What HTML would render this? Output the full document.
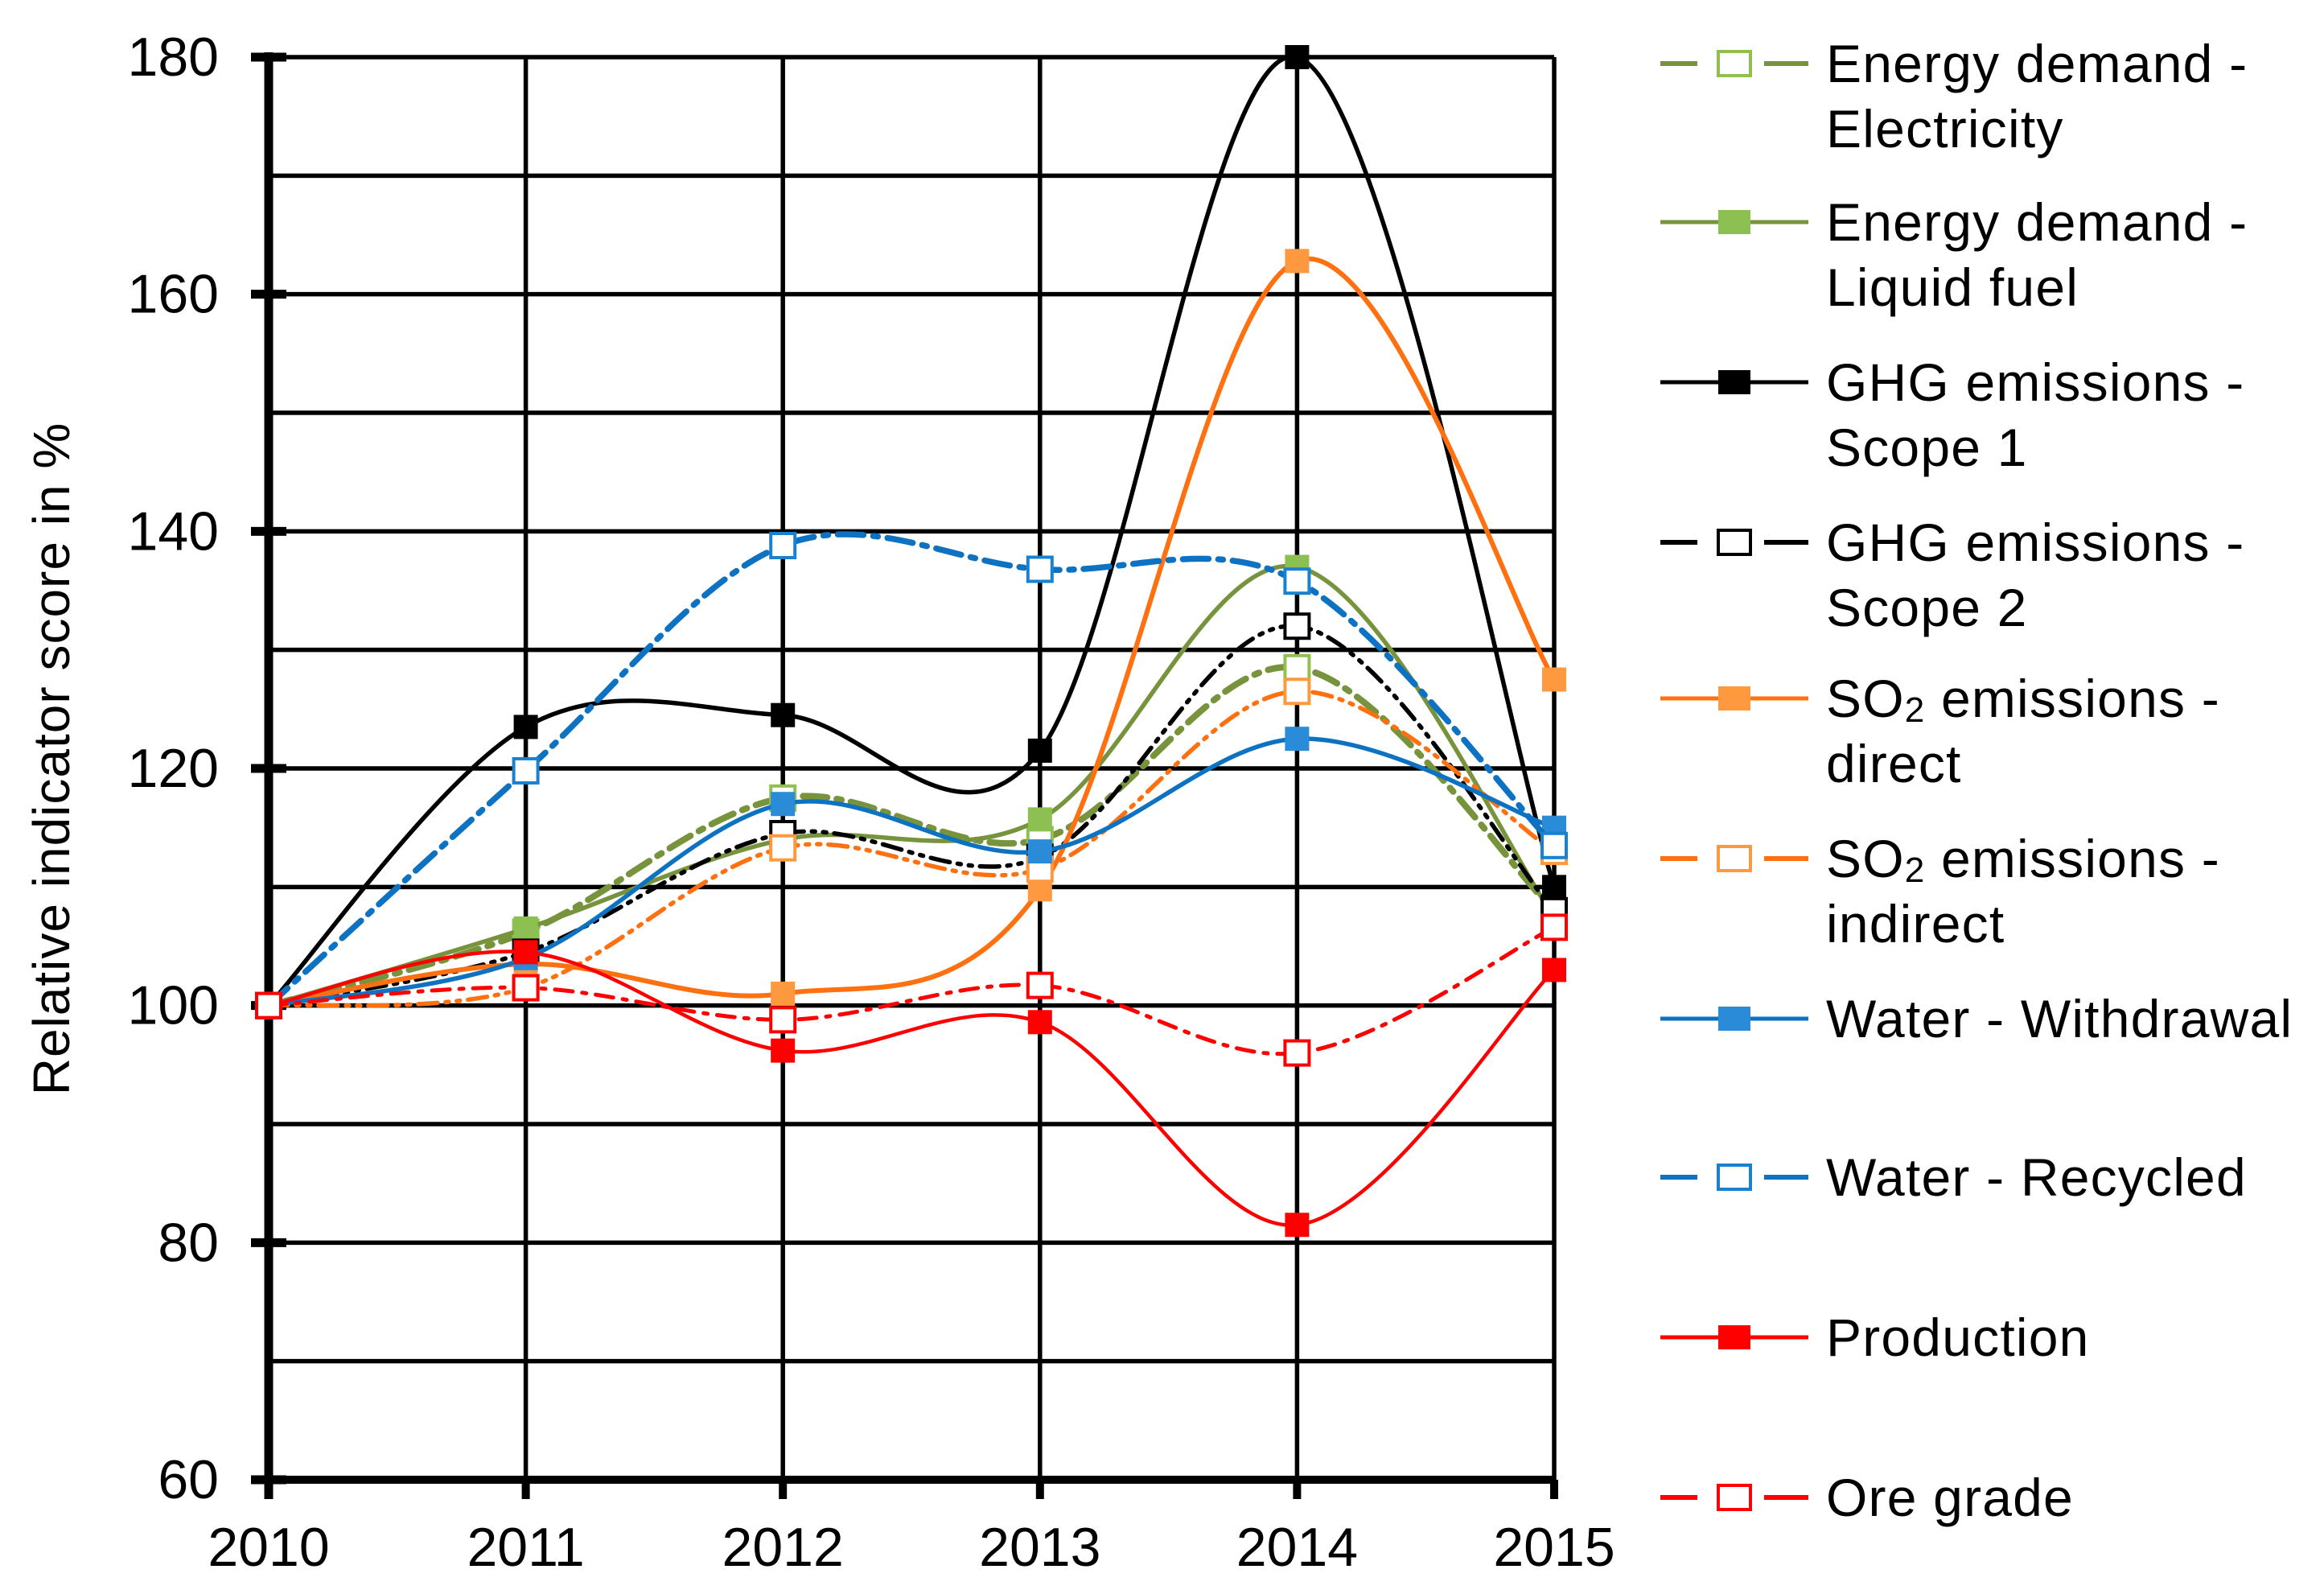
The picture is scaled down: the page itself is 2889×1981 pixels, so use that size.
<!DOCTYPE html>
<html><head><meta charset="utf-8"><style>
html,body{margin:0;padding:0;background:#fff;}
svg{display:block;font-family:"Liberation Sans",Arial,sans-serif;}
</style></head><body>
<svg id="chart" width="2889" height="1981" viewBox="0 0 2889 1981" xmlns="http://www.w3.org/2000/svg">
<g id="grid"></g>
<g id="axes"></g>
<g id="series"></g>
<g id="legend"></g>
<text x="64" y="943" font-size="64" letter-spacing="1" text-anchor="middle" dominant-baseline="central" transform="rotate(-90 64 943)">Relative indicator score in %</text>
</svg>
<script>
const years = [2010, 2011, 2012, 2013, 2014, 2015];
const yTicks = [60, 80, 100, 120, 140, 160, 180];
const elecVals = [100, 106.2, 117.5, 114, 128.5, 108];
const liquidVals = [100, 106.5, 114, 115.7, 137, 107.5];
const scope1Vals = [100, 123.5, 124.5, 121.5, 180, 110];
const scope2Vals = [100, 104.5, 114.5, 112.5, 132, 108];
const so2DirVals = [100, 103.5, 101, 109.8, 162.8, 127.5];
const so2IndVals = [100, 101.5, 113.3, 111.5, 126.5, 113];
const withdrawVals = [100, 104, 117, 113, 122.5, 115];
const recycledVals = [100, 119.8, 138.8, 136.8, 135.8, 113.5];
const productionVals = [100, 104.5, 96.2, 98.6, 81.5, 103];
const oreVals = [100, 101.5, 98.8, 101.7, 96, 106.6];

const NS = "http://www.w3.org/2000/svg";
const X0 = 334, X1 = 1932, Y0 = 1839, Y1 = 71;
const xScale = i => X0 + (X1 - X0) * i / (years.length - 1);
const yScale = v => Y0 - (v - 60) / 120 * (Y0 - Y1);
function mk(tag, attrs, parent) {
  const e = document.createElementNS(NS, tag);
  for (const k in attrs) e.setAttribute(k, attrs[k]);
  parent.appendChild(e);
  return e;
}
const grid = document.getElementById('grid');
const axes = document.getElementById('axes');
const seriesG = document.getElementById('series');
const legend = document.getElementById('legend');

for (let v = 70; v <= 180; v += 10) {
  const l = mk('line', {x1: X0, x2: X1, y1: yScale(v), y2: yScale(v), stroke: '#000', 'stroke-width': 5.5}, grid);
  
  
}
for (let i = 1; i < years.length; i++) {
  const l = mk('line', {x1: xScale(i), x2: xScale(i), y1: Y1, y2: Y0, stroke: '#000', 'stroke-width': 5.5}, grid);
  
  
}
const ya = mk('line', {x1: X0, x2: X0, y1: Y1 - 6, y2: Y0 + 24, stroke: '#000', 'stroke-width': 11}, axes);


const xa = mk('line', {x1: X0, x2: X1, y1: Y0, y2: Y0, stroke: '#000', 'stroke-width': 10}, axes);


yTicks.forEach(v => {
  const t = mk('line', {x1: X0 - 22, x2: X0 + 22, y1: yScale(v), y2: yScale(v), stroke: '#000', 'stroke-width': 11}, axes);
  
  
  const tx = mk('text', {x: 272, y: yScale(v), 'font-size': 68, 'text-anchor': 'end', 'dominant-baseline': 'central'}, axes);
  tx.textContent = v;
  
  
});
years.forEach((y, i) => {
  const t = mk('line', {x1: xScale(i), x2: xScale(i), y1: Y0, y2: Y0 + 24, stroke: '#000', 'stroke-width': 10}, axes);
  
  
  const tx = mk('text', {x: xScale(i), y: 1946, 'font-size': 68, 'text-anchor': 'middle'}, axes);
  tx.textContent = y;
  
  
});

function smoothPath(vals) {
  const p = vals.map((v, i) => [xScale(i), yScale(v)]);
  let d = 'M' + p[0][0] + ' ' + p[0][1];
  for (let i = 0; i < p.length - 1; i++) {
    const p0 = p[Math.max(0, i - 1)], p1 = p[i], p2 = p[i + 1], p3 = p[Math.min(p.length - 1, i + 2)];
    const c1 = [p1[0] + (p2[0] - p0[0]) / 6, p1[1] + (p2[1] - p0[1]) / 6];
    const c2 = [p2[0] - (p3[0] - p1[0]) / 6, p2[1] - (p3[1] - p1[1]) / 6];
    d += ' C' + c1[0] + ' ' + c1[1] + ' ' + c2[0] + ' ' + c2[1] + ' ' + p2[0] + ' ' + p2[1];
  }
  return d;
}

const seriesDefs = [
  {name: 'energy-electricity', label: ['Energy demand -', 'Electricity'], vals: elecVals, color: '#77933C', mfill: '#fff', mstroke: '#92C050', w: 8, dash: '30 12 6 12', open: true},
  {name: 'energy-liquid-fuel', label: ['Energy demand -', 'Liquid fuel'], vals: liquidVals, color: '#77933C', mfill: '#8DC052', mstroke: '#8DC052', w: 5.5, dash: '', open: false},
  {name: 'ghg-scope1', label: ['GHG emissions -', 'Scope 1'], vals: scope1Vals, color: '#000', mfill: '#000', mstroke: '#000', w: 5.5, dash: '', open: false},
  {name: 'ghg-scope2', label: ['GHG emissions -', 'Scope 2'], vals: scope2Vals, color: '#000', mfill: '#fff', mstroke: '#000', w: 5.5, dash: '24 10 4 10 4 10', open: true},
  {name: 'so2-direct', label: ['SO2', 'direct'], vals: so2DirVals, color: '#FF7010', mfill: '#FF9940', mstroke: '#FF9940', w: 6, dash: '', open: false},
  {name: 'so2-indirect', label: ['SO2', 'indirect'], vals: so2IndVals, color: '#FF7010', mfill: '#fff', mstroke: '#FF9940', w: 5.5, dash: '24 10 4 10 4 10', open: true},
  {name: 'water-withdrawal', label: ['Water - Withdrawal'], vals: withdrawVals, color: '#0D72C2', mfill: '#2A8CD8', mstroke: '#2A8CD8', w: 5.5, dash: '', open: false},
  {name: 'water-recycled', label: ['Water - Recycled'], vals: recycledVals, color: '#0D72C2', mfill: '#fff', mstroke: '#1A80D0', w: 7.5, dash: '32 12 6 12', open: true},
  {name: 'production', label: ['Production'], vals: productionVals, color: '#FF0000', mfill: '#FF0000', mstroke: '#FF0000', w: 4.5, dash: '', open: false},
  {name: 'ore-grade', label: ['Ore grade'], vals: oreVals, color: '#FF0000', mfill: '#fff', mstroke: '#FF0000', w: 5, dash: '22 12 5 12', open: true}
];
const legendRows = [79, 276, 475, 674, 868, 1067, 1266, 1463, 1662, 1861];
const M = 30;

seriesDefs.forEach((s, si) => {
  const g = mk('g', {}, seriesG);
  
  
  const path = mk('path', {d: smoothPath(s.vals), fill: 'none', stroke: s.color, 'stroke-width': s.w, 'stroke-dasharray': s.dash, 'stroke-linecap': 'round'}, g);
  
  
  s.vals.forEach((v, i) => {
    const sw = s.open ? 4 : 0;
    const r = mk('rect', {x: xScale(i) - M / 2, y: yScale(v) - M / 2, width: M, height: M, fill: s.mfill, stroke: s.mstroke, 'stroke-width': sw}, g);
    
    
  });
  const ly = legendRows[si];
  const lg = mk('g', {}, legend);
  
  
  if (s.open) {
    mk('line', {x1: 2064, x2: 2110, y1: ly, y2: ly, stroke: s.color, 'stroke-width': 6}, lg);
    mk('line', {x1: 2193, x2: 2248, y1: ly, y2: ly, stroke: s.color, 'stroke-width': 6}, lg);
  } else {
    mk('line', {x1: 2064, x2: 2248, y1: ly, y2: ly, stroke: s.color, 'stroke-width': 5}, lg);
  }
  mk('rect', {x: 2156 - 20, y: ly - 15, width: 40, height: 30, fill: s.mfill, stroke: s.mstroke, 'stroke-width': s.open ? 4 : 0}, lg);
  s.label.forEach((t, li) => {
    const tx = mk('text', {x: 2270, y: ly + li * 81, 'font-size': 66, 'letter-spacing': 1.2, 'dominant-baseline': 'central'}, lg);
    if (t === 'SO2') {
      tx.innerHTML = 'SO<tspan font-size="44" dy="14">2</tspan><tspan dy="-14"> emissions -</tspan>';
    } else tx.textContent = t;
    
    
  });
});
</script>
</body></html>
